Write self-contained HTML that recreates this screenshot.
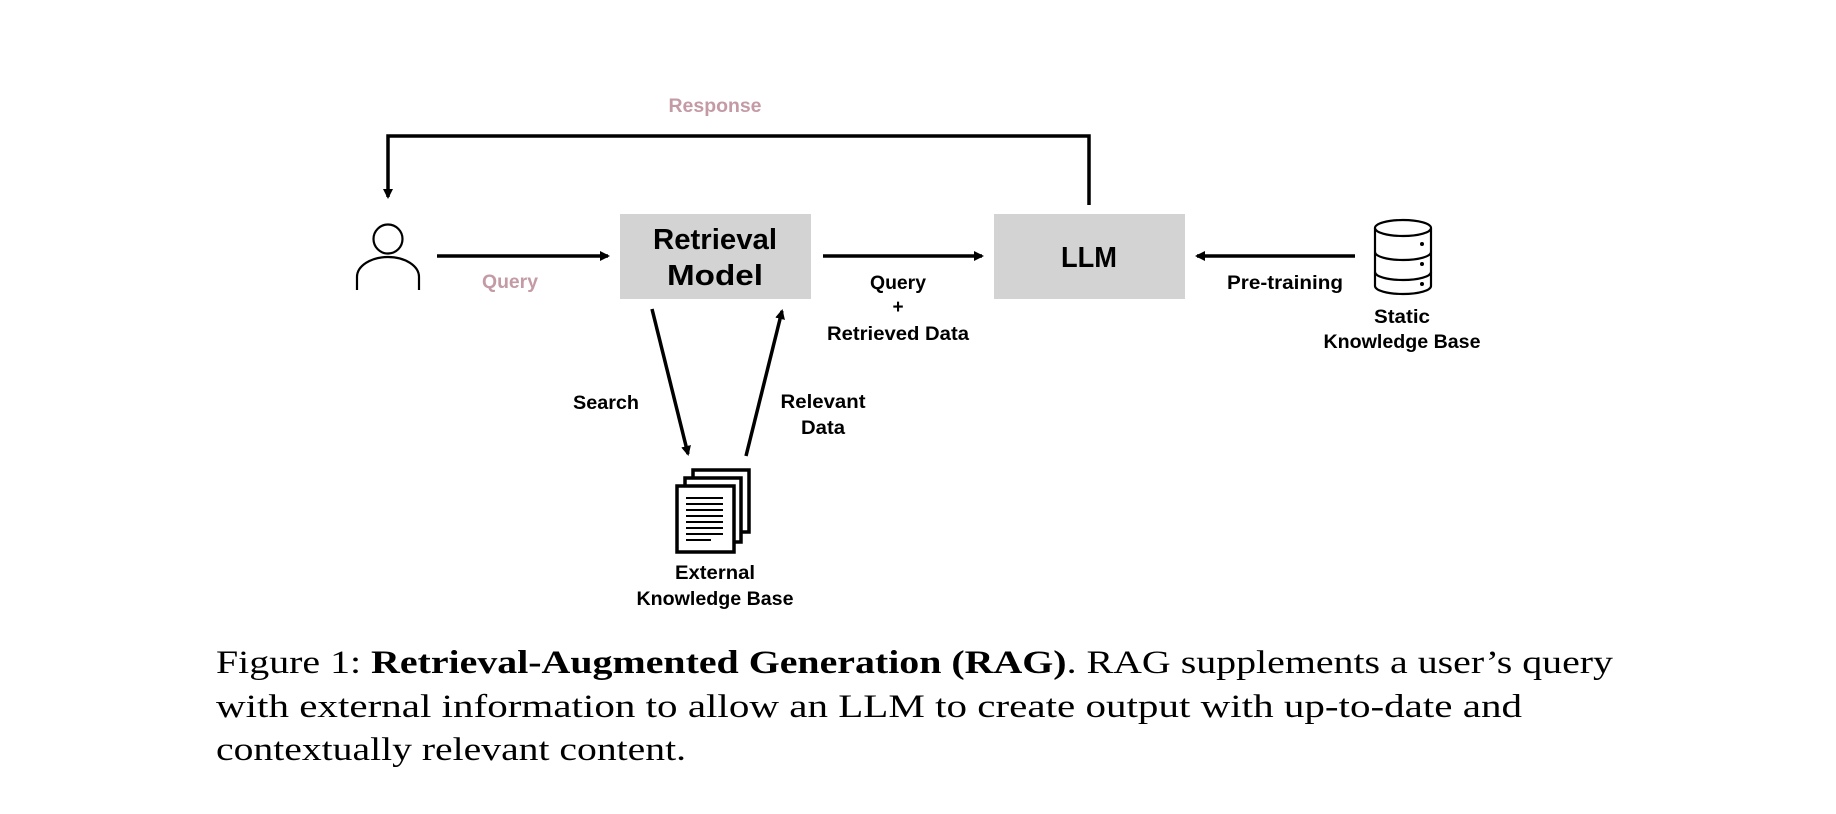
<!DOCTYPE html>
<html><head><meta charset="utf-8"><style>
html,body{margin:0;padding:0;background:#fff;}
svg{display:block;}
.l{font-family:"Liberation Sans",sans-serif;font-weight:bold;font-size:19px;text-anchor:middle;fill:#000;}
.p{fill:#c49aa5;}
.c{font-family:"Liberation Serif",serif;font-size:33px;fill:#000;}
</style></head><body>
<svg width="1836" height="814" viewBox="0 0 1836 814" xmlns="http://www.w3.org/2000/svg">
<defs>
<marker id="a" markerWidth="10" markerHeight="10" refX="8" refY="5" orient="auto" markerUnits="userSpaceOnUse">
<path d="M0,0 L10,5 L0,10 Z" fill="#000"/></marker>
</defs>
<g transform="translate(-4,-1)">
<g stroke="#000" stroke-width="3.5" fill="none">
<polyline points="1093,206 1093,137 392,137 392,198" marker-end="url(#a)"/>
<line x1="441" y1="257" x2="612" y2="257" marker-end="url(#a)"/>
<line x1="827" y1="257" x2="986" y2="257" marker-end="url(#a)"/>
<line x1="1359" y1="257" x2="1201" y2="257" marker-end="url(#a)"/>
<line x1="656" y1="310" x2="692" y2="455" marker-end="url(#a)"/>
<line x1="750" y1="457" x2="786" y2="312" marker-end="url(#a)"/>
</g>
<g stroke="#000" stroke-width="2.2" fill="none">
<circle cx="392" cy="240" r="14.5"/>
<path d="M361,291 L361,278 A31,20 0 0 1 423,278 L423,291"/>
</g>
<rect x="624" y="215" width="191" height="85" fill="#d3d3d3"/>
<rect x="998" y="215" width="191" height="85" fill="#d3d3d3"/>
<text class="l" x="719" y="250" style="font-size:29px" textLength="124" lengthAdjust="spacingAndGlyphs">Retrieval</text>
<text class="l" x="719" y="286" style="font-size:29px" textLength="96" lengthAdjust="spacingAndGlyphs">Model</text>
<text class="l" x="1093" y="268" style="font-size:29px" textLength="56" lengthAdjust="spacingAndGlyphs">LLM</text>
<g stroke="#000" stroke-width="2.2" fill="#fff">
<path d="M1379,229 L1379,287 A28,8 0 0 0 1435,287 L1435,229"/>
<ellipse cx="1407" cy="229" rx="28" ry="8"/>
<path d="M1379,253 A28,8 0 0 0 1435,253 M1379,273 A28,8 0 0 0 1435,273" fill="none"/>
</g>
<g fill="#000"><circle cx="1426" cy="245" r="2"/><circle cx="1426" cy="265" r="2"/><circle cx="1426" cy="285" r="2"/></g>
<g stroke="#000" stroke-width="3.5" fill="#fff">
<rect x="697" y="471" width="56" height="62"/>
<rect x="689" y="479" width="56" height="64"/>
<rect x="681" y="487" width="57" height="66"/>
</g>
<g stroke="#000" stroke-width="2">
<line x1="690" y1="499" x2="727" y2="499"/><line x1="690" y1="505" x2="727" y2="505"/>
<line x1="690" y1="511" x2="727" y2="511"/><line x1="690" y1="517" x2="727" y2="517"/>
<line x1="690" y1="523" x2="727" y2="523"/><line x1="690" y1="529" x2="727" y2="529"/>
<line x1="690" y1="535" x2="727" y2="535"/><line x1="690" y1="541" x2="715" y2="541"/>
</g>
<text class="l p" x="719" y="113" textLength="93" lengthAdjust="spacingAndGlyphs">Response</text>
<text class="l p" x="514" y="289" textLength="56" lengthAdjust="spacingAndGlyphs">Query</text>
<text class="l" x="902" y="290" textLength="56" lengthAdjust="spacingAndGlyphs">Query</text>
<text class="l" x="902" y="314">+</text>
<text class="l" x="902" y="341" textLength="142" lengthAdjust="spacingAndGlyphs">Retrieved Data</text>
<text class="l" x="1289" y="290" textLength="116" lengthAdjust="spacingAndGlyphs">Pre-training</text>
<text class="l" x="1406" y="324" textLength="56" lengthAdjust="spacingAndGlyphs">Static</text>
<text class="l" x="1406" y="349" textLength="157" lengthAdjust="spacingAndGlyphs">Knowledge Base</text>
<text class="l" x="610" y="410" textLength="66" lengthAdjust="spacingAndGlyphs">Search</text>
<text class="l" x="827" y="409" textLength="85" lengthAdjust="spacingAndGlyphs">Relevant</text>
<text class="l" x="827" y="435" textLength="44" lengthAdjust="spacingAndGlyphs">Data</text>
<text class="l" x="719" y="580" textLength="80" lengthAdjust="spacingAndGlyphs">External</text>
<text class="l" x="719" y="606" textLength="157" lengthAdjust="spacingAndGlyphs">Knowledge Base</text>
</g>
<text class="c" x="216" y="673" textLength="1397" lengthAdjust="spacingAndGlyphs">Figure 1: <tspan font-weight="bold">Retrieval-Augmented Generation (RAG)</tspan>. RAG supplements a user’s query</text>
<text class="c" x="216" y="717" textLength="1306" lengthAdjust="spacingAndGlyphs">with external information to allow an LLM to create output with up-to-date and</text>
<text class="c" x="216" y="760" textLength="470" lengthAdjust="spacingAndGlyphs">contextually relevant content.</text>
</svg>
</body></html>
